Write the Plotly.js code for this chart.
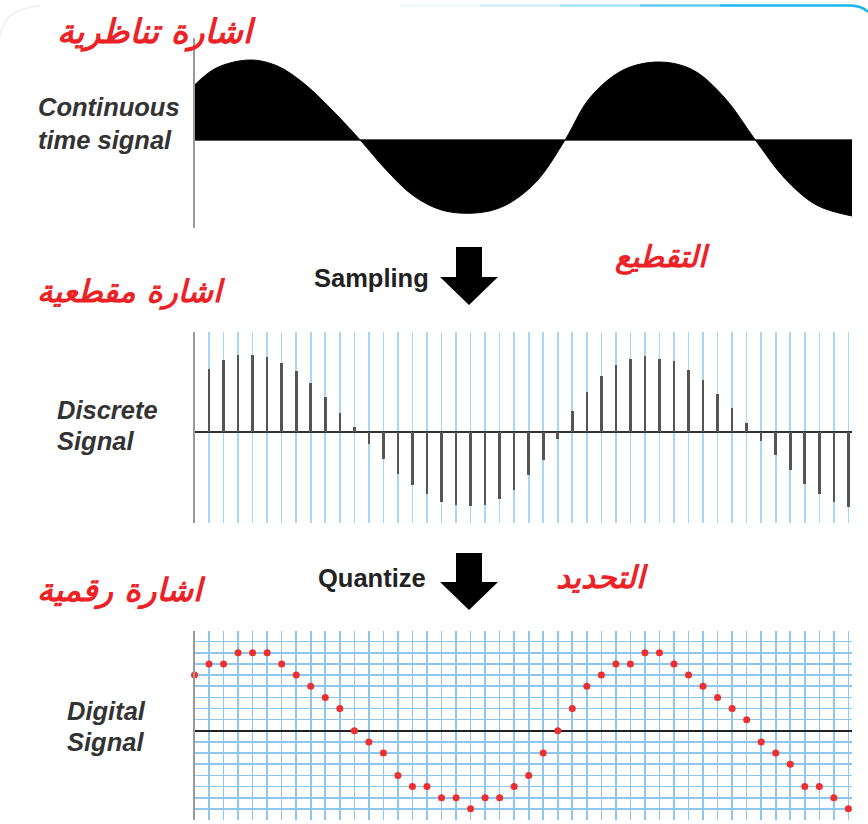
<!DOCTYPE html>
<html>
<head>
<meta charset="utf-8">
<script src="https://cdn.plot.ly/plotly-3.0.1.min.js"></script>
<style>html,body{margin:0;padding:0;background:#fff;}#chart{width:868px;height:824px;}</style>
</head>
<body>
<div id="chart"></div>
<script>
// ---- Data ----
// continuous (analog) signal: points (x in sample-index units)
var analogX = [0, 1.5, 3.8, 5.7, 7.5, 9.4, 11.4, 13.2, 15.0, 17.0, 19.3, 21.3, 23.5, 25.5, 27.2, 29.5, 32.0, 34.3, 36.5, 38.6, 40.6, 42.8, 45.25];
var analogY = [55, 72, 80, 74, 57, 31, 0, -30, -55, -70, -73, -66, -42, 0, 42, 70, 78, 70, 42, 0, -38, -65, -76];
// sample index along the time axis
var sampleIndex = [];
for (var i = 0; i <= 45; i++) sampleIndex.push(i);
// sampled amplitude at each sample index (arbitrary units)
var sampleValues = [55, 63, 72, 77, 77, 75, 69, 61, 49, 35, 19, 5, -12, -27, -42, -53, -62, -70, -73, -74,
  -73, -67, -58, -43, -28, -7, 21, 40, 56, 67, 73, 76, 73, 71, 62, 52, 38, 24, 9, -9,
  -23, -38, -52, -62, -70, -75];
// quantized level at each sample index
var quantLevels = [5, 6, 6, 7, 7, 7, 6, 5, 4, 3, 2, 0, -1, -2, -4, -5, -5, -6, -6, -7,
  -6, -6, -5, -4, -2, 0, 2, 4, 5, 6, 6, 7, 7, 6, 5, 4, 3, 2, 1, -1,
  -2, -3, -5, -5, -6, -7];
// text labels
var labelsEN = {
  cont: ['Continuous', 'time signal'],
  disc: ['Discrete', 'Signal'],
  dig: ['Digital', 'Signal'],
  sampling: 'Sampling',
  quantize: 'Quantize'
};
var labelsAR = {
  analog: 'اشارة تناظرية',
  sampling: 'التقطيع',
  discrete: 'اشارة مقطعية',
  quantize: 'التحديد',
  digital: 'اشارة رقمية'
};

// ---- helpers (pixel -> paper) ----
var W = 868, H = 824;
function px(x) { return x / W; }
function py(y) { return 1 - y / H; }
function dom(top, bottom) { return [py(bottom), py(top)]; }

var xDom = [px(194.5), px(852)];
var xRange = [0, 45.25];

var traces = [
  { // continuous
    x: analogX, y: analogY, xaxis: 'x', yaxis: 'y',
    type: 'scatter', mode: 'lines', line: { shape: 'spline', color: '#000', width: 1, smoothing: 1 },
    fill: 'tozeroy', fillcolor: '#000', hoverinfo: 'skip'
  },
  { // discrete stems
    x: sampleIndex.slice(1), y: sampleValues.slice(1), xaxis: 'x2', yaxis: 'y2',
    type: 'bar', width: 0.18, marker: { color: '#555' }, hoverinfo: 'skip'
  },
  { // digital
    x: sampleIndex, y: quantLevels, xaxis: 'x3', yaxis: 'y3',
    type: 'scatter', mode: 'markers', marker: { color: '#ec2f2f', size: 7 }, cliponaxis: false, hoverinfo: 'skip'
  }
];

function xa(grid, color) {
  return { domain: xDom, range: xRange, showgrid: grid, dtick: 1, tick0: 0, gridcolor: color || '#a6d3f2', gridwidth: 1.6,
    zeroline: false, showticklabels: false, ticks: '', showline: false, fixedrange: true };
}
var layout = {
  width: W, height: H, margin: { l: 0, r: 0, t: 0, b: 0 },
  paper_bgcolor: '#fff', plot_bgcolor: 'rgba(0,0,0,0)', showlegend: false, bargap: 0,
  xaxis: xa(false),
  yaxis: { domain: dom(38, 228), range: [-88, 102], showgrid: false, zeroline: true, zerolinecolor: '#555', zerolinewidth: 1.5,
    showline: true, linecolor: '#999', linewidth: 1.5, showticklabels: false, ticks: '', fixedrange: true },
  xaxis2: Object.assign(xa(true, '#a9d6f4'), { anchor: 'y2' }),
  yaxis2: { domain: dom(332, 523), range: [-91.3, 99.7], showgrid: false, zeroline: true, zerolinecolor: '#333', zerolinewidth: 2,
    showline: true, linecolor: '#999', linewidth: 1.5, showticklabels: false, ticks: '', anchor: 'x2', fixedrange: true },
  xaxis3: Object.assign(xa(true, '#8ec6ee'), { anchor: 'y3' }),
  yaxis3: { domain: dom(630.5, 820), range: [-8, 9], showgrid: true, dtick: 1, tick0: 0, gridcolor: '#8ec6ee', gridwidth: 1.6,
    zeroline: true, zerolinecolor: '#222', zerolinewidth: 2,
    showline: true, linecolor: '#999', linewidth: 1.5, showticklabels: false, ticks: '', anchor: 'x3', fixedrange: true },
  annotations: [],
  shapes: []
};

function ann(text, x, y, opts) {
  var a = Object.assign({ text: text, x: px(x), y: py(y), xref: 'paper', yref: 'paper', showarrow: false,
    xanchor: 'left', yanchor: 'middle' }, opts || {});
  layout.annotations.push(a);
}
var italicFont = { family: 'Liberation Sans, Arial, sans-serif', size: 25.5, color: '#333', weight: 'bold', style: 'italic' };
var boldFont = { family: 'Liberation Sans, Arial, sans-serif', size: 25.5, color: '#222', weight: 'bold' };
var arFont = { family: 'DejaVu Sans, sans-serif', size: 30, color: '#ec2227', weight: 'bold', style: 'italic' };

ann(labelsEN.cont[0], 36, 107, { font: italicFont });
ann(labelsEN.cont[1], 36, 140, { font: italicFont });
ann(labelsEN.disc[0], 55, 410, { font: italicFont });
ann(labelsEN.disc[1], 55, 441, { font: italicFont });
ann(labelsEN.dig[0], 65, 711, { font: italicFont });
ann(labelsEN.dig[1], 65, 742, { font: italicFont });
ann(labelsEN.sampling, 431, 278, { font: boldFont, xanchor: 'right' });
ann(labelsEN.quantize, 428, 578, { font: boldFont, xanchor: 'right' });

ann(labelsAR.analog, 157, 32, { font: Object.assign({}, arFont, { size: 33.5 }), xanchor: 'center' });
ann(labelsAR.sampling, 662, 257, { font: arFont, xanchor: 'center' });
ann(labelsAR.discrete, 131, 292, { font: Object.assign({}, arFont, { size: 31 }), xanchor: 'center' });
ann(labelsAR.quantize, 602, 577, { font: Object.assign({}, arFont, { size: 31 }), xanchor: 'center' });
ann(labelsAR.digital, 121, 590, { font: Object.assign({}, arFont, { size: 32 }), xanchor: 'center' });

// block arrows
function arrowPath(top, neck, tip) {
  var pts = [[456, top], [482, top], [482, neck], [498, neck], [469, tip], [440, neck], [456, neck]];
  return 'M' + pts.map(function (p) { return px(p[0]) + ',' + py(p[1]); }).join(' L') + ' Z';
}
layout.shapes.push({ type: 'path', xref: 'paper', yref: 'paper', path: arrowPath(247, 277, 305), fillcolor: '#000', line: { width: 0 } });
layout.shapes.push({ type: 'path', xref: 'paper', yref: 'paper', path: arrowPath(553, 582, 610), fillcolor: '#000', line: { width: 0 } });

// card border (top right, fading)
var segs = [[400, 480, 0.08], [480, 560, 0.2], [560, 640, 0.4], [640, 720, 0.7], [720, 850, 1]];
segs.forEach(function (s) {
  layout.shapes.push({ type: 'line', xref: 'paper', yref: 'paper', x0: px(s[0]), x1: px(s[1]), y0: py(5.5), y1: py(5.5),
    line: { color: '#19b6f0', width: 2.5 }, opacity: s[2] });
});
layout.shapes.push({ type: 'path', xref: 'paper', yref: 'paper',
  path: 'M' + px(849) + ',' + py(5.5) + ' Q' + px(862) + ',' + py(5.5) + ' ' + px(868) + ',' + py(12),
  line: { color: '#19b6f0', width: 2.5 } });
layout.shapes.push({ type: 'path', xref: 'paper', yref: 'paper',
  path: 'M' + px(0) + ',' + py(36) + ' Q' + px(4) + ',' + py(8) + ' ' + px(40) + ',' + py(6),
  line: { color: '#eeeeee', width: 1.5 } });

Plotly.newPlot('chart', traces, layout, { staticPlot: true, displayModeBar: false });
</script>
</body>
</html>
